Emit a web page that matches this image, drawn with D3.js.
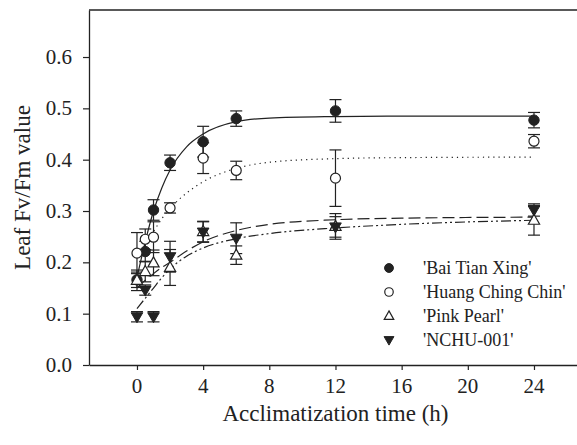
<!DOCTYPE html>
<html><head><meta charset="utf-8">
<script src="https://cdn.jsdelivr.net/npm/d3@7"></script>
<style>body{margin:0;background:#fff}svg{display:block}</style>
</head><body><svg id="c" width="577" height="445"></svg>
<script>
const times = [0, 0.5, 1, 2, 4, 6, 12, 24];
const btx = [0.166, 0.221, 0.302, 0.394, 0.435, 0.480, 0.495, 0.477];
const btxErr = [0.015, 0.02, 0.02, 0.015, 0.03, 0.015, 0.022, 0.015];
const hcc = [0.218, 0.245, 0.249, 0.306, 0.403, 0.379, 0.364, 0.436];
const hccErr = [0.04, 0.02, 0.03, 0.01, 0.03, 0.018, 0.055, 0.013];
const pp = [0.165, 0.182, 0.199, 0.190, 0.260, 0.214, 0.270, 0.282];
const ppErr = [0.02, 0.02, 0.025, 0.035, 0.02, 0.018, 0.025, 0.029];
const nchu = [0.094, 0.146, 0.094, 0.211, 0.259, 0.247, 0.269, 0.302];
const nchuErr = [0.01, 0.01, 0.01, 0.03, 0.02, 0.03, 0.02, 0.012];

const fitTimes = [0, 0.5, 1, 1.5, 2, 3, 4, 6, 8, 12, 16, 24];
const btxFit = [0.17, 0.24, 0.30, 0.345, 0.38, 0.425, 0.45, 0.474, 0.481, 0.484, 0.485, 0.485];
const hccFit = [0.21, 0.235, 0.26, 0.285, 0.305, 0.335, 0.357, 0.383, 0.395, 0.402, 0.404, 0.405];
const ppFit = [0.15, 0.165, 0.178, 0.19, 0.20, 0.222, 0.24, 0.262, 0.274, 0.283, 0.286, 0.288];
const nchuFit = [0.11, 0.13, 0.15, 0.17, 0.187, 0.212, 0.228, 0.246, 0.256, 0.267, 0.274, 0.282];

const seriesNames = ["'Bai Tian Xing'", "'Huang Ching Chin'", "'Pink Pearl'", "'NCHU-001'"];
const xTicks = [0, 4, 8, 12, 16, 20, 24];
const yTicks = [0, 0.1, 0.2, 0.3, 0.4, 0.5, 0.6];
const xTitle = "Acclimatization time (h)";
const yTitle = "Leaf Fv/Fm value";

const svg = d3.select("#c");
const font = "Liberation Serif";
const smallFont = "Times New Roman";
const ink = "#222";
const fs = 21;
const x = d3.scaleLinear().domain([-2.9, 26.6]).range([89, 577]);
const y = d3.scaleLinear().domain([0, 0.6916]).range([365, 10]);

const xa = svg.append("g").attr("transform", "translate(0,365)")
  .call(d3.axisBottom(x).tickValues(xTicks).tickSize(5).tickSizeOuter(0).tickFormat(""));
const ya = svg.append("g").attr("transform", "translate(89,0)")
  .call(d3.axisLeft(y).tickValues(yTicks).tickSize(6).tickSizeOuter(0).tickFormat(""));
[xa, ya].forEach(a => {
  a.attr("font-family", null).attr("font-size", null);
  a.select(".domain").attr("stroke", ink).attr("stroke-width", 1.3);
  a.selectAll(".tick line").attr("stroke", ink).attr("stroke-width", 1.2);
  a.selectAll(".tick text").remove();
});
const xFmt = d3.format("d"), yFmt = d3.format(".1f");
xTicks.forEach(t => {
  svg.append("text").attr("x", x(t)).attr("y", 365 + 13 + Math.round(0.71 * fs)).attr("text-anchor", "middle")
    .attr("font-family", smallFont).attr("font-size", fs).attr("fill", ink).text(xFmt(t));
});
yTicks.forEach(t => {
  svg.append("text").attr("x", 89 - 17).attr("y", y(t) + Math.round(0.33 * fs)).attr("text-anchor", "end")
    .attr("font-family", smallFont).attr("font-size", fs).attr("fill", ink).text(yFmt(t));
});
svg.append("line").attr("x1", x(-2.9)).attr("x2", x(26.6)).attr("y1", y(0.6916)).attr("y2", y(0.6916))
  .attr("stroke", ink).attr("stroke-width", 1.3);

svg.append("text").attr("x", (137 + 534) / 2).attr("y", 421).attr("text-anchor", "middle")
  .attr("font-family", font).attr("font-size", 23).attr("fill", ink).text(xTitle);
svg.append("text").attr("transform", "translate(30," + ((10 + 365) / 2) + ") rotate(-90)").attr("text-anchor", "middle")
  .attr("font-family", font).attr("font-size", 23).attr("fill", ink).text(yTitle);

const fits = [[btxFit, null], [hccFit, "1.2,4"], [ppFit, "12,5"], [nchuFit, "10,3,2,3,2,3"]];
const line = d3.line().x((d, i) => x(fitTimes[i])).y(d => y(d)).curve(d3.curveMonotoneX);
fits.forEach(([vals, dash]) => {
  svg.append("path").attr("d", line(vals)).attr("fill", "none").attr("stroke", ink)
    .attr("stroke-width", 1.2).attr("stroke-dasharray", dash);
});

const series = [[btx, btxErr, "fc"], [hcc, hccErr, "oc"], [pp, ppErr, "ot"], [nchu, nchuErr, "fd"]];
series.forEach(([vals, errs]) => {
  const g = svg.append("g").attr("stroke", ink).attr("stroke-width", 1.2);
  vals.forEach((v, i) => {
    const cx = x(times[i]), y1 = y(v + errs[i]), y2 = y(v - errs[i]);
    g.append("line").attr("x1", cx).attr("x2", cx).attr("y1", y1).attr("y2", y2);
    g.append("line").attr("x1", cx - 6).attr("x2", cx + 6).attr("y1", y1).attr("y2", y1);
    g.append("line").attr("x1", cx - 6).attr("x2", cx + 6).attr("y1", y2).attr("y2", y2);
  });
});
function marker(g, type, cx, cy, s) {
  if (type === "fc") g.append("circle").attr("cx", cx).attr("cy", cy).attr("r", 5.2*s).attr("fill", ink).attr("stroke", ink);
  else if (type === "oc") g.append("circle").attr("cx", cx).attr("cy", cy).attr("r", 5*s).attr("fill", "#fff").attr("stroke", ink).attr("stroke-width", 1.2);
  else if (type === "ot") g.append("path").attr("d", `M${cx},${cy-6*s}L${cx+5.6*s},${cy+4*s}L${cx-5.6*s},${cy+4*s}Z`).attr("fill", "#fff").attr("stroke", ink).attr("stroke-width", 1.2);
  else g.append("path").attr("d", `M${cx},${cy+6*s}L${cx+5.8*s},${cy-4*s}L${cx-5.8*s},${cy-4*s}Z`).attr("fill", ink).attr("stroke", ink).attr("stroke-width", 1);
}
series.forEach(([vals, errs, type]) => {
  const g = svg.append("g");
  vals.forEach((v, i) => marker(g, type, x(times[i]), y(v), 1));
});

const lg = svg.append("g");
const rowsY = [268, 292, 316, 340];
series.forEach(([, , type], i) => {
  marker(lg, type, 389, rowsY[i], 0.85);
  svg.append("text").attr("x", 423).attr("y", rowsY[i] + 6)
    .attr("font-family", smallFont).attr("font-size", 18).attr("fill", ink).text(seriesNames[i]);
});
</script></body></html>
